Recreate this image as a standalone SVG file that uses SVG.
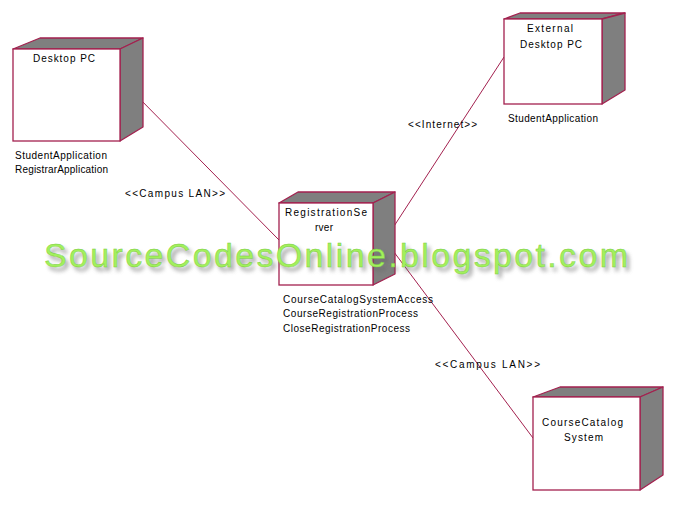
<svg xmlns="http://www.w3.org/2000/svg" width="677" height="522" viewBox="0 0 677 522">
<style>
.front{fill:#ffffff;stroke:#a3214f;stroke-width:1.3}
.face{fill:#7f7f7f;stroke:#a3214f;stroke-width:1.3;stroke-linejoin:round}
.title{font-family:"Liberation Sans",Arial,sans-serif;font-size:10px;fill:#000;text-anchor:start}
.lbl{font-family:"Liberation Sans",Arial,sans-serif;font-size:10px;fill:#000}
.conn{stroke:#a3214f;stroke-width:1;fill:none}
.wm{font-family:"Liberation Sans",Arial,sans-serif;font-size:34px;fill:#a2f05c;stroke:#78cc40;stroke-width:0.4}
.wmsh{font-family:"Liberation Sans",Arial,sans-serif;font-size:34px;fill:#666}
</style>
<defs>
<filter id="blur" x="-5%" y="-50%" width="110%" height="200%"><feGaussianBlur stdDeviation="2.2"/></filter>
</defs>
<rect width="677" height="522" fill="#ffffff"/>
<g id="connectors">
<line class="conn" x1="133" y1="92" x2="279" y2="240"/>
<line class="conn" x1="385" y1="240" x2="504" y2="57"/>
<line class="conn" x1="385" y1="240" x2="533" y2="438"/>
<text class="lbl" x="125" y="197" textLength="100" lengthAdjust="spacing">&lt;&lt;Campus LAN&gt;&gt;</text>
<text class="lbl" x="408" y="128" textLength="69" lengthAdjust="spacing">&lt;&lt;Internet&gt;&gt;</text>
<text class="lbl" x="435" y="368" textLength="105" lengthAdjust="spacing">&lt;&lt;Campus LAN&gt;&gt;</text>
</g>
<g id="desktop-pc">
<polygon class="face" points="13,49 40,38 143,38 120,49"/>
<polygon class="face" points="120,49 143,38 143,127 120,141"/>
<rect class="front" x="13" y="49" width="107" height="92"/>
<text class="title" x="33" y="62" textLength="62" lengthAdjust="spacing">Desktop PC</text>
<text class="lbl" x="15" y="159" textLength="92" lengthAdjust="spacing">StudentApplication</text>
<text class="lbl" x="15" y="173" textLength="93" lengthAdjust="spacing">RegistrarApplication</text>
</g>
<g id="registration-server">
<polygon class="face" points="279,203 298,192 395,192 373,203"/>
<polygon class="face" points="373,203 395,192 395,274 373,285"/>
<rect class="front" x="279" y="203" width="94" height="82"/>
<text class="title" x="285" y="216" textLength="82" lengthAdjust="spacing">RegistrationSe</text>
<text class="title" x="315" y="231" textLength="18" lengthAdjust="spacing">rver</text>
<text class="lbl" x="283" y="303" textLength="150" lengthAdjust="spacing">CourseCatalogSystemAccess</text>
<text class="lbl" x="283" y="317" textLength="135" lengthAdjust="spacing">CourseRegistrationProcess</text>
<text class="lbl" x="283" y="332" textLength="127" lengthAdjust="spacing">CloseRegistrationProcess</text>
</g>
<g id="external-desktop-pc">
<polygon class="face" points="504,19 520,13 625,13 602,19"/>
<polygon class="face" points="602,19 625,13 625,90 602,104"/>
<rect class="front" x="504" y="19" width="98" height="85"/>
<text class="title" x="527" y="32" textLength="46" lengthAdjust="spacing">External</text>
<text class="title" x="520" y="48" textLength="62" lengthAdjust="spacing">Desktop PC</text>
<text class="lbl" x="508" y="122" textLength="90" lengthAdjust="spacing">StudentApplication</text>
</g>
<g id="course-catalog-system">
<polygon class="face" points="533,397 560,387 663,387 640,397"/>
<polygon class="face" points="640,397 663,387 663,475 640,490"/>
<rect class="front" x="533" y="397" width="107" height="93"/>
<text class="title" x="542" y="426" textLength="81" lengthAdjust="spacing">CourseCatalog</text>
<text class="title" x="564" y="441" textLength="39" lengthAdjust="spacing">System</text>
</g>
<g id="watermark">
<text class="wmsh" x="47" y="271" textLength="584" lengthAdjust="spacing" filter="url(#blur)" opacity="0.7">SourceCodesOnline.blogspot.com</text>
<text class="wm" x="44" y="267" textLength="584" lengthAdjust="spacing">SourceCodesOnline.blogspot.com</text>
</g>
</svg>
